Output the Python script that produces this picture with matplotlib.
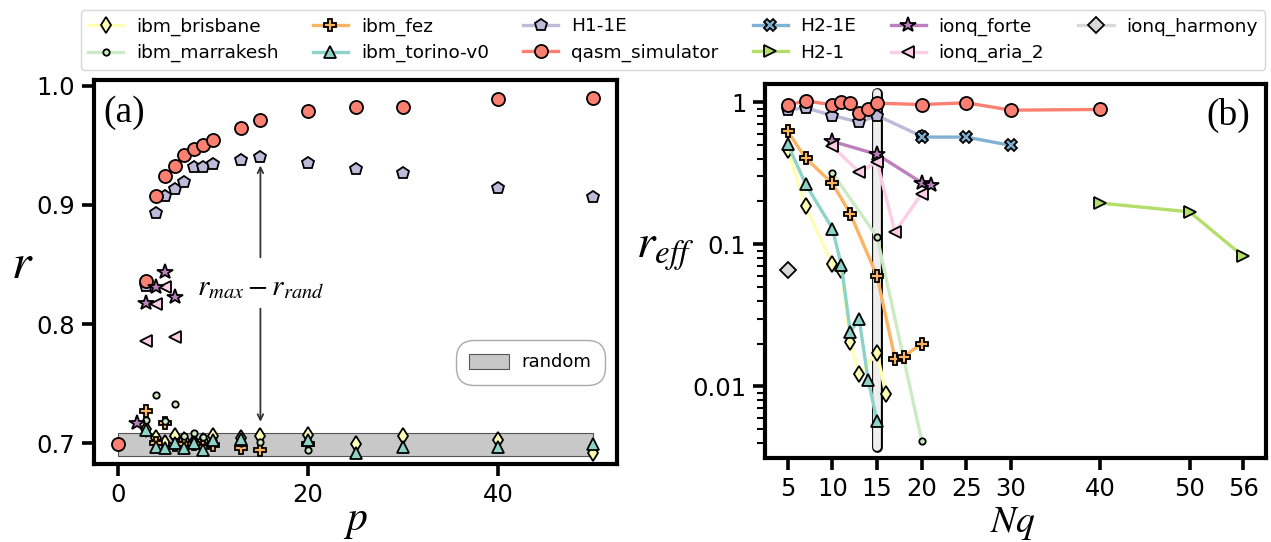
import matplotlib
matplotlib.use("Agg")
import matplotlib.pyplot as plt
from matplotlib.ticker import FixedLocator, FuncFormatter, LogLocator, NullFormatter
from matplotlib.patches import Patch

plt.rcParams['font.family'] = ['DejaVu Sans']
plt.rcParams['mathtext.fontset'] = 'stix'

# ---------------- panel (a): r versus QAOA depth p ----------------
brisbane_p = [3, 4, 5, 6, 7, 8, 9, 10, 13, 15, 20, 25, 30, 40, 50]
brisbane_r = [0.712, 0.704, 0.700, 0.7065, 0.703, 0.701, 0.702, 0.7065, 0.704, 0.7065, 0.707, 0.699, 0.7065, 0.703, 0.692]

marrakesh_p = [3, 4, 5, 6, 7, 8, 9, 10, 13, 15, 20]
marrakesh_r = [0.7195, 0.7405, 0.719, 0.733, 0.7065, 0.709, 0.7056, 0.703, 0.700, 0.701, 0.6944]

fez_p = [3, 4, 5, 6, 7, 8, 9, 10, 13, 15, 20]
fez_r = [0.727, 0.700, 0.7168, 0.6986, 0.699, 0.6995, 0.697, 0.6986, 0.6958, 0.694, 0.6995]

torino_p = [3, 4, 5, 6, 7, 8, 9, 10, 13, 20, 25, 30, 40, 50]
torino_r = [0.711, 0.697, 0.6958, 0.700, 0.6958, 0.700, 0.6944, 0.703, 0.7035, 0.703, 0.692, 0.697, 0.697, 0.699]

h1e_p = [3, 4, 5, 6, 7, 8, 9, 10, 13, 15, 20, 25, 30, 40, 50]
h1e_r = [0.832, 0.893, 0.9075, 0.913, 0.9195, 0.932, 0.9315, 0.934, 0.938, 0.940, 0.9354, 0.930, 0.927, 0.9144, 0.907]

qasm_p = [0, 3, 4, 5, 6, 7, 8, 9, 10, 13, 15, 20, 25, 30, 40, 50]
qasm_r = [0.699, 0.8364, 0.9075, 0.9242, 0.9326, 0.9419, 0.9466, 0.950, 0.9544, 0.9648, 0.9712, 0.979, 0.9821, 0.9824, 0.989, 0.9894]

forte_p = [2, 3, 4, 5, 6]
forte_r = [0.717, 0.8175, 0.8314, 0.844, 0.823]

aria_p = [3, 4, 5, 6]
aria_r = [0.786, 0.8169, 0.8314, 0.7894]

# random-guess reference band
rand_p = [0, 50]
rand_mean = 0.699
rand_halfwidth = 0.010

# ---------------- panel (b): effective ratio versus number of qubits ----------------
brisbane_nq = [5, 7, 10, 11, 12, 13, 15, 16]
brisbane_reff = [0.458, 0.185, 0.0722, 0.066, 0.0206, 0.0123, 0.0171, 0.0088]

marrakesh_nq = [10, 15, 20]
marrakesh_reff = [0.318, 0.1125, 0.00413]

fez_nq = [5, 7, 10, 12, 15, 17, 18, 20]
fez_reff = [0.622, 0.404, 0.268, 0.164, 0.0596, 0.0157, 0.0162, 0.020]

torino_nq = [5, 7, 10, 11, 12, 13, 14, 15]
torino_reff = [0.505, 0.265, 0.129, 0.0712, 0.0242, 0.0296, 0.0111, 0.0057]

h1e_nq = [5, 7, 10, 13, 15, 20]
h1e_reff = [0.884, 0.913, 0.806, 0.723, 0.806, 0.575]

qasm_nq = [5, 7, 10, 11, 12, 13, 14, 15, 20, 25, 30, 40]
qasm_reff = [0.96, 1.02, 0.96, 1.0, 0.984, 0.846, 0.889, 0.984, 0.963, 0.99, 0.879, 0.889]

h2e_nq = [20, 25, 30]
h2e_reff = [0.568, 0.568, 0.496]

h2_nq = [40, 50, 56]
h2_reff = [0.195, 0.169, 0.0823]

forte_nq = [10, 15, 20, 21]
forte_reff = [0.53, 0.429, 0.271, 0.26]

aria_nq = [10, 13, 15, 17, 20]
aria_reff = [0.489, 0.322, 0.379, 0.122, 0.227]

harmony_nq = [5]
harmony_reff = [0.0656]

highlight_nq = 15
nq_ticks = [5, 10, 15, 20, 25, 30, 40, 50, 56]

# ---------------- styling ----------------
styles = {
    'ibm_brisbane':   dict(color='#ffffb3', marker='d', ms=8.0),
    'ibm_marrakesh':  dict(color='#ccebc5', marker='o', ms=4.6),
    'ibm_fez':        dict(color='#fdb462', marker='P', ms=9.0),
    'ibm_torino-v0':  dict(color='#8dd3c7', marker='^', ms=9.0),
    'H1-1E':          dict(color='#bebada', marker='p', ms=9.0),
    'qasm_simulator': dict(color='#fb8072', marker='o', ms=9.4),
    'H2-1E':          dict(color='#80b1d3', marker='X', ms=9.0),
    'H2-1':           dict(color='#b3de69', marker='>', ms=9.0),
    'ionq_forte':     dict(color='#bc80bd', marker='*', ms=11.5),
    'ionq_aria_2':    dict(color='#fccde5', marker='<', ms=9.0),
    'ionq_harmony':   dict(color='#d9d9d9', marker='D', ms=8.5),
}

panel_a = [
    ('ibm_brisbane', brisbane_p, brisbane_r),
    ('ibm_fez', fez_p, fez_r),
    ('ibm_marrakesh', marrakesh_p, marrakesh_r),
    ('ibm_torino-v0', torino_p, torino_r),
    ('H1-1E', h1e_p, h1e_r),
    ('qasm_simulator', qasm_p, qasm_r),
    ('ionq_aria_2', aria_p, aria_r),
    ('ionq_forte', forte_p, forte_r),
]

panel_b = [
    ('ibm_brisbane', brisbane_nq, brisbane_reff),
    ('ibm_marrakesh', marrakesh_nq, marrakesh_reff),
    ('ibm_fez', fez_nq, fez_reff),
    ('ibm_torino-v0', torino_nq, torino_reff),
    ('H1-1E', h1e_nq, h1e_reff),
    ('qasm_simulator', qasm_nq, qasm_reff),
    ('H2-1E', h2e_nq, h2e_reff),
    ('H2-1', h2_nq, h2_reff),
    ('ionq_forte', forte_nq, forte_reff),
    ('ionq_aria_2', aria_nq, aria_reff),
    ('ionq_harmony', harmony_nq, harmony_reff),
]

TICK_FS = 17.5
SPINE_W = 3.0

fig = plt.figure(figsize=(12.71, 5.42), dpi=100)
ax1 = fig.add_axes([94 / 1271, 78 / 542, 523 / 1271, 384 / 542])
ax2 = fig.add_axes([765 / 1271, 84 / 542, 501 / 1271, 374 / 542])

for ax in (ax1, ax2):
    for s in ax.spines.values():
        s.set_linewidth(SPINE_W)
    ax.tick_params(which='major', length=8.5, width=2.6, labelsize=TICK_FS, pad=5)
    ax.tick_params(which='minor', length=6, width=1.5)

# ----- panel (a)
for name, p, r in panel_a:
    st = styles[name]
    ax1.plot(p, r, ls='none', marker=st['marker'], ms=st['ms'], mfc=st['color'],
             mec='black', mew=1.3, zorder=3)

band = ax1.fill_between(rand_p, rand_mean - rand_halfwidth, rand_mean + rand_halfwidth,
                        facecolor='#c8c8c8', edgecolor='#555555', lw=0.8, zorder=1)

ax1.set_xlim(-2.5, 52.5)
ax1.set_ylim(0.6826, 1.0048)
ax1.xaxis.set_major_locator(FixedLocator([0, 20, 40]))
ax1.yaxis.set_major_locator(FixedLocator([0.7, 0.8, 0.9, 1.0]))
ax1.yaxis.set_major_formatter(FuncFormatter(lambda v, pos: f'{v:.1f}'))

ax1.set_ylabel('$r$', fontsize=36, rotation=0, va='center', ha='center')
ax1.yaxis.set_label_coords(-0.138, 0.52)
ax1.set_xlabel('$p$', fontsize=30, va='baseline')
ax1.xaxis.set_label_coords(0.5, -0.172)

ax1.text(0.017, 0.915, '(a)', transform=ax1.transAxes, fontsize=27,
         family=['Liberation Serif', 'DejaVu Serif'], ha='left', va='center')

# gap annotation at p = 15
gap_p = 15
gap_top = h1e_r[h1e_p.index(gap_p)] - 0.007
gap_bottom = rand_mean + rand_halfwidth + 0.009
gap_mid = 0.831
ax1.text(gap_p, gap_mid, r'$r_{max} - r_{rand}$', fontsize=21, ha='center', va='center')
arrow_kw = dict(arrowstyle='->', color='#333333', lw=1.3, shrinkA=0, shrinkB=0)
ax1.annotate('', xy=(gap_p, gap_top), xytext=(gap_p, gap_mid + 0.025), arrowprops=arrow_kw)
ax1.annotate('', xy=(gap_p, gap_bottom), xytext=(gap_p, gap_mid - 0.018), arrowprops=arrow_kw)

rand_handle = Patch(facecolor='#c8c8c8', edgecolor='#555555', lw=0.8)
leg_a = ax1.legend([rand_handle], ['random'], loc='lower right',
                   bbox_to_anchor=(1 - 12 / 523, 79 / 384), borderaxespad=0,
                   fontsize=13, handlelength=2.2, handleheight=0.9, borderpad=0.75,
                   handletextpad=0.7, fancybox=True, framealpha=1, edgecolor='#aaaaaa')
leg_a.get_frame().set_boxstyle('round', pad=0.0, rounding_size=1.0)

# ----- panel (b)
ax2.set_yscale('log')
handles = []
labels = []
for name, nq, reff in panel_b:
    st = styles[name]
    ln, = ax2.plot(nq, reff, color=st['color'], lw=2.4, marker=st['marker'], ms=st['ms'],
                   mfc=st['color'], mec='black', mew=1.3, zorder=3)
    handles.append(ln)
    labels.append(name)

ax2.set_xlim(2.45, 58.55)
ax2.set_ylim(0.00313, 1.343)

# highlighted qubit count: rounded vertical bar
bar_y = [0.030, 0.977]
ax2.plot([highlight_nq, highlight_nq], bar_y, transform=ax2.get_xaxis_transform(),
         color='black', lw=7.8, solid_capstyle='round', zorder=1.5)
ax2.plot([highlight_nq, highlight_nq], bar_y, transform=ax2.get_xaxis_transform(),
         color='#efefef', lw=5.6, solid_capstyle='round', zorder=1.6)

ax2.xaxis.set_major_locator(FixedLocator(nq_ticks))
ax2.yaxis.set_major_locator(FixedLocator([0.01, 0.1, 1]))
ax2.yaxis.set_major_formatter(FuncFormatter(lambda v, pos: f'{v:g}'))
ax2.yaxis.set_minor_locator(LogLocator(base=10, subs=range(2, 10), numticks=20))
ax2.yaxis.set_minor_formatter(NullFormatter())

ax2.set_ylabel(r'$r_{eff}$', fontsize=34, rotation=0, va='center', ha='center')
ax2.yaxis.set_label_coords(-0.2, 0.556)
ax2.set_xlabel('$Nq$', fontsize=27, va='baseline')
ax2.xaxis.set_label_coords(0.494, -0.197)

ax2.text(0.968, 0.915, '(b)', transform=ax2.transAxes, fontsize=27,
         family=['Liberation Serif', 'DejaVu Serif'], ha='right', va='center')

fig.legend(handles, labels, loc='upper center', bbox_to_anchor=(0.5295, 0.9985), ncol=6,
           fontsize=13.3, handlelength=1.9, columnspacing=1.85, handletextpad=0.7,
           borderpad=0.4, labelspacing=0.45, frameon=True)

fig.savefig('out.png', dpi=100)
